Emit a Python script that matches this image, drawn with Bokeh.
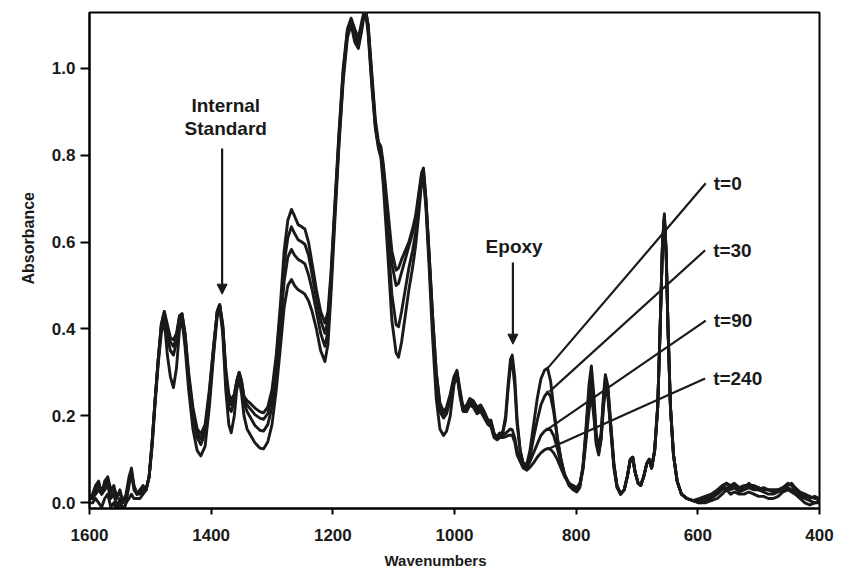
from bokeh.plotting import figure
from bokeh.models import (Range1d, Label, Arrow, NormalHead, FixedTicker, ColumnDataSource,
                          CustomJSTickFormatter, Title)
from bokeh.embed import file_html
from bokeh.resources import INLINE

# ---------------- data ----------------
WAVENUMBER = [
    1600, 1595, 1590, 1585, 1580, 1575, 1570, 1565, 1560, 1555, 1550, 1545, 1540, 1535, 1531, 1527,
    1522, 1517, 1512, 1507, 1502, 1497, 1492, 1487, 1482, 1477, 1472, 1467, 1462, 1457, 1452, 1448,
    1443, 1437, 1430, 1423, 1417, 1410, 1403, 1396, 1390, 1386, 1381, 1376, 1371, 1367, 1362, 1358,
    1354, 1350, 1346, 1341, 1335, 1328, 1320, 1314, 1307, 1300, 1293, 1286, 1280, 1274, 1268, 1263,
    1257, 1251, 1246, 1240, 1234, 1227, 1220, 1213, 1208, 1203, 1197, 1190, 1183, 1176, 1170, 1164,
    1158, 1152, 1147, 1142, 1136, 1130, 1125, 1121, 1117, 1110, 1103, 1096, 1092, 1087, 1081, 1075,
    1069, 1064, 1059, 1054, 1051, 1047, 1042, 1036, 1030, 1024, 1018, 1013, 1007, 1001, 996, 991,
    986, 980, 975, 969, 963, 957, 951, 945, 940, 935, 930, 926, 921, 916, 912, 908, 905, 901, 897,
    892, 887, 881, 876, 870, 864, 858, 852, 847, 842, 837, 831, 825, 819, 812, 805, 799, 794, 789,
    784, 779, 775, 771, 767, 763, 759, 755, 752, 748, 743, 738, 733, 727, 721, 716, 711, 707, 703,
    698, 694, 689, 684, 680, 676, 671, 666, 662, 658, 655, 652, 649, 645, 640, 634, 627, 618, 608,
    598, 588, 578, 568, 560, 553, 546, 540, 532, 524, 516, 508, 500, 492, 484, 476, 468, 460, 452,
    446, 440, 432, 424, 416, 408, 400,
]

ABS_T0 = [
    0.01, 0.02, 0.04, 0.05, 0.02, 0.05, 0.06, 0.03, 0.04, 0.01, 0.03, 0.00, 0.02, 0.06, 0.08, 0.04,
    0.02, 0.03, 0.04, 0.03, 0.06, 0.14, 0.24, 0.33, 0.41, 0.44, 0.41, 0.38, 0.375, 0.39, 0.43, 0.435,
    0.39, 0.30, 0.22, 0.17, 0.158, 0.18, 0.26, 0.36, 0.44, 0.456, 0.41, 0.31, 0.25, 0.237, 0.25, 0.28,
    0.30, 0.28, 0.245, 0.235, 0.228, 0.218, 0.21, 0.207, 0.22, 0.26, 0.34, 0.46, 0.58, 0.65, 0.675, 0.66,
    0.64, 0.635, 0.63, 0.60, 0.55, 0.49, 0.44, 0.414, 0.44, 0.53, 0.68, 0.85, 1.00, 1.09, 1.115, 1.09,
    1.07, 1.11, 1.14, 1.10, 0.99, 0.88, 0.83, 0.82, 0.78, 0.68, 0.58, 0.535, 0.54, 0.56, 0.58, 0.60,
    0.63, 0.66, 0.71, 0.76, 0.77, 0.70, 0.58, 0.43, 0.30, 0.23, 0.21, 0.22, 0.25, 0.29, 0.305, 0.26,
    0.22, 0.225, 0.24, 0.235, 0.22, 0.225, 0.21, 0.19, 0.19, 0.16, 0.15, 0.16, 0.16, 0.20, 0.27, 0.33, 0.34, 0.29, 0.19,
    0.12, 0.09, 0.09, 0.12, 0.18, 0.24, 0.285, 0.305, 0.31, 0.28, 0.22, 0.15, 0.10, 0.065, 0.04, 0.03, 0.025, 0.035, 0.08,
    0.17, 0.27, 0.315, 0.25, 0.16, 0.125, 0.16, 0.25, 0.295, 0.27, 0.18, 0.09, 0.04, 0.02, 0.03, 0.06, 0.10, 0.105, 0.07,
    0.045, 0.04, 0.06, 0.09, 0.10, 0.08, 0.12, 0.22, 0.40, 0.60, 0.665, 0.58, 0.40, 0.22, 0.11, 0.05, 0.02, 0.01, 0.005,
    0.005, 0.01, 0.015, 0.025, 0.035, 0.045, 0.035, 0.04, 0.03, 0.035, 0.045, 0.035, 0.03, 0.035, 0.03, 0.025, 0.03, 0.035, 0.045,
    0.04, 0.03, 0.02, 0.015, 0.01, 0.015, 0.01,
]

ABS_T30 = [
    0.01, 0.015, 0.03, 0.04, 0.03, 0.04, 0.05, 0.02, 0.03, 0.02, 0.02, 0.01, 0.01, 0.05, 0.07, 0.04,
    0.02, 0.03, 0.03, 0.03, 0.06, 0.14, 0.24, 0.33, 0.41, 0.44, 0.40, 0.37, 0.36, 0.38, 0.43, 0.435,
    0.39, 0.29, 0.21, 0.16, 0.147, 0.17, 0.25, 0.36, 0.44, 0.456, 0.41, 0.30, 0.24, 0.225, 0.245, 0.28,
    0.30, 0.28, 0.24, 0.225, 0.215, 0.203, 0.195, 0.192, 0.205, 0.245, 0.33, 0.44, 0.55, 0.61, 0.635, 0.62,
    0.605, 0.60, 0.595, 0.57, 0.525, 0.47, 0.42, 0.39, 0.42, 0.52, 0.67, 0.84, 0.99, 1.085, 1.11, 1.08,
    1.06, 1.10, 1.14, 1.10, 0.98, 0.87, 0.825, 0.81, 0.77, 0.66, 0.55, 0.50, 0.505, 0.53, 0.56, 0.59,
    0.62, 0.65, 0.70, 0.755, 0.765, 0.70, 0.58, 0.43, 0.30, 0.225, 0.205, 0.215, 0.245, 0.285, 0.30, 0.255,
    0.215, 0.22, 0.235, 0.23, 0.215, 0.22, 0.205, 0.19, 0.185, 0.16, 0.15, 0.16, 0.16, 0.19, 0.26, 0.315, 0.325, 0.27, 0.18,
    0.12, 0.09, 0.085, 0.105, 0.15, 0.19, 0.225, 0.245, 0.255, 0.245, 0.21, 0.15, 0.10, 0.065, 0.045, 0.035, 0.03, 0.04, 0.08,
    0.16, 0.25, 0.29, 0.23, 0.15, 0.12, 0.155, 0.24, 0.285, 0.265, 0.175, 0.09, 0.04, 0.02, 0.03, 0.06, 0.10, 0.105, 0.07,
    0.045, 0.04, 0.06, 0.09, 0.10, 0.08, 0.12, 0.22, 0.40, 0.60, 0.66, 0.575, 0.40, 0.22, 0.11, 0.05, 0.02, 0.01, 0.005,
    0.01, 0.015, 0.02, 0.03, 0.04, 0.045, 0.04, 0.045, 0.035, 0.04, 0.04, 0.04, 0.035, 0.03, 0.03, 0.03, 0.03, 0.035, 0.04,
    0.045, 0.035, 0.025, 0.02, 0.015, 0.01, 0.01,
]

ABS_T90 = [
    0.01, 0.01, 0.02, 0.03, 0.02, 0.03, 0.04, 0.01, 0.02, -0.01, 0.01, -0.02, 0.00, 0.04, 0.07, 0.03,
    0.02, 0.02, 0.03, 0.03, 0.06, 0.14, 0.24, 0.33, 0.40, 0.43, 0.38, 0.35, 0.34, 0.37, 0.42, 0.43,
    0.38, 0.28, 0.20, 0.15, 0.134, 0.16, 0.24, 0.35, 0.44, 0.455, 0.40, 0.29, 0.22, 0.21, 0.235, 0.275,
    0.295, 0.27, 0.23, 0.21, 0.195, 0.178, 0.167, 0.165, 0.18, 0.22, 0.30, 0.41, 0.51, 0.565, 0.583, 0.57,
    0.56, 0.555, 0.55, 0.525, 0.49, 0.44, 0.39, 0.36, 0.395, 0.50, 0.66, 0.83, 0.98, 1.08, 1.105, 1.07,
    1.05, 1.10, 1.14, 1.09, 0.97, 0.865, 0.82, 0.80, 0.75, 0.62, 0.48, 0.41, 0.405, 0.44, 0.49, 0.54,
    0.58, 0.62, 0.68, 0.745, 0.755, 0.69, 0.57, 0.41, 0.28, 0.21, 0.195, 0.205, 0.235, 0.28, 0.30, 0.25,
    0.215, 0.215, 0.23, 0.225, 0.21, 0.215, 0.20, 0.185, 0.18, 0.155, 0.15, 0.155, 0.155, 0.16, 0.165, 0.17, 0.168, 0.15, 0.12,
    0.10, 0.085, 0.08, 0.095, 0.115, 0.135, 0.155, 0.165, 0.17, 0.168, 0.155, 0.125, 0.09, 0.065, 0.045, 0.04, 0.035, 0.045, 0.08,
    0.15, 0.23, 0.27, 0.21, 0.14, 0.115, 0.15, 0.23, 0.275, 0.255, 0.17, 0.085, 0.04, 0.02, 0.03, 0.06, 0.10, 0.105, 0.07,
    0.045, 0.04, 0.06, 0.09, 0.10, 0.08, 0.12, 0.22, 0.40, 0.60, 0.655, 0.57, 0.40, 0.22, 0.11, 0.05, 0.02, 0.01, 0.005,
    0.00, 0.005, 0.01, 0.02, 0.03, 0.035, 0.03, 0.035, 0.025, 0.03, 0.035, 0.03, 0.03, 0.025, 0.02, 0.02, 0.025, 0.03, 0.035,
    0.03, 0.025, 0.015, 0.01, 0.005, 0.00, 0.005,
]

ABS_T240 = [
    0.00, 0.00, 0.01, 0.00, -0.01, 0.01, 0.02, -0.01, 0.00, -0.02, 0.00, -0.02, 0.00, 0.01, 0.02, 0.01,
    0.01, 0.01, 0.02, 0.03, 0.06, 0.13, 0.23, 0.32, 0.39, 0.42, 0.34, 0.29, 0.265, 0.31, 0.40, 0.42,
    0.36, 0.26, 0.17, 0.12, 0.108, 0.13, 0.22, 0.34, 0.43, 0.45, 0.39, 0.26, 0.18, 0.161, 0.20, 0.26,
    0.285, 0.25, 0.20, 0.17, 0.155, 0.138, 0.126, 0.124, 0.14, 0.18, 0.26, 0.36, 0.45, 0.50, 0.514, 0.50,
    0.49, 0.485, 0.48, 0.465, 0.44, 0.40, 0.35, 0.325, 0.365, 0.48, 0.64, 0.82, 0.97, 1.07, 1.10, 1.06,
    1.045, 1.09, 1.14, 1.08, 0.96, 0.86, 0.815, 0.795, 0.73, 0.58, 0.42, 0.345, 0.335, 0.37, 0.43, 0.49,
    0.54, 0.59, 0.66, 0.74, 0.745, 0.68, 0.55, 0.38, 0.24, 0.17, 0.155, 0.165, 0.20, 0.27, 0.295, 0.245,
    0.21, 0.21, 0.225, 0.22, 0.205, 0.21, 0.195, 0.18, 0.175, 0.15, 0.145, 0.15, 0.15, 0.152, 0.155, 0.156, 0.155, 0.14, 0.11,
    0.095, 0.08, 0.075, 0.082, 0.092, 0.105, 0.115, 0.122, 0.125, 0.123, 0.115, 0.10, 0.08, 0.06, 0.045, 0.035, 0.03, 0.04, 0.075,
    0.14, 0.21, 0.25, 0.20, 0.135, 0.11, 0.145, 0.22, 0.26, 0.245, 0.165, 0.08, 0.035, 0.02, 0.03, 0.06, 0.10, 0.10, 0.07,
    0.045, 0.04, 0.06, 0.09, 0.10, 0.08, 0.12, 0.22, 0.40, 0.60, 0.65, 0.565, 0.40, 0.22, 0.11, 0.05, 0.02, 0.01, 0.005,
    0.00, 0.00, 0.005, 0.01, 0.02, 0.03, 0.02, 0.025, 0.02, 0.02, 0.025, 0.02, 0.015, 0.015, 0.01, 0.01, 0.015, 0.025, 0.03,
    0.025, 0.02, 0.01, 0.00, -0.005, 0.00, 0.00,
]

SERIES = {"t=0": ABS_T0, "t=30": ABS_T30, "t=90": ABS_T90, "t=240": ABS_T240}

X_TICKS = [1600, 1400, 1200, 1000, 800, 600, 400]
Y_TICKS = [0.0, 0.2, 0.4, 0.6, 0.8, 1.0]

# label leader lines: (label, x_on_curve, y_on_curve, x_end, y_end)
LEADERS = [
    ("t=0", 846, 0.311, 587, 0.735),
    ("t=30", 844, 0.256, 588, 0.581),
    ("t=90", 846, 0.170, 587, 0.419),
    ("t=240", 846, 0.124, 588, 0.286),
]

FONT = "Liberation Sans"
INK = "#1a1a1a"

p = figure(width=843, height=579, output_backend="svg", toolbar_location=None,
           x_range=Range1d(1600, 400), y_range=Range1d(-0.013, 1.128),
           min_border_left=89, min_border_right=24, min_border_top=12, min_border_bottom=71)
p.background_fill_color = "white"
p.border_fill_color = "white"
p.xgrid.visible = False
p.ygrid.visible = False
p.outline_line_color = "black"
p.outline_line_width = 2

for name, ys in SERIES.items():
    src = ColumnDataSource(dict(x=WAVENUMBER, y=ys))
    p.line("x", "y", source=src, line_color=INK, line_width=2.9, line_join="round")

for lab, x0, y0, x1, y1 in LEADERS:
    p.segment(x0=[x0], y0=[y0], x1=[x1], y1=[y1], line_color=INK, line_width=2.2)
    p.add_layout(Label(x=x1, y=y1, text=lab, x_offset=8, y_offset=0, text_baseline="middle",
                       text_font=FONT, text_font_size="19px", text_font_style="bold",
                       text_color=INK))

# annotations
p.add_layout(Label(x=1376, y=0.915, text="Internal", text_align="center", text_baseline="middle",
                   text_font=FONT, text_font_size="19px", text_font_style="bold", text_color=INK))
p.add_layout(Label(x=1376, y=0.862, text="Standard", text_align="center", text_baseline="middle",
                   text_font=FONT, text_font_size="19px", text_font_style="bold", text_color=INK))
p.add_layout(Arrow(end=NormalHead(size=10, fill_color=INK, line_color=INK),
                   x_start=1382, y_start=0.815, x_end=1382, y_end=0.48,
                   line_color=INK, line_width=2.2))
p.add_layout(Label(x=902, y=0.59, text="Epoxy", text_align="center", text_baseline="middle",
                   text_font=FONT, text_font_size="19px", text_font_style="bold", text_color=INK))
p.add_layout(Arrow(end=NormalHead(size=10, fill_color=INK, line_color=INK),
                   x_start=904, y_start=0.553, x_end=904, y_end=0.365,
                   line_color=INK, line_width=2.2))

# axis titles, placed off-centre where the reference prints them
p.add_layout(Title(text="Wavenumbers", align="left", offset=295, standoff=12,
                   text_font=FONT, text_font_size="15px", text_font_style="bold",
                   text_color=INK), "below")
p.add_layout(Title(text="Absorbance", align="left", offset=224, standoff=24,
                   text_font=FONT, text_font_size="16px", text_font_style="bold",
                   text_color=INK), "left")

for ax in (p.xaxis[0], p.yaxis[0]):
    ax.axis_line_color = "black"
    ax.axis_line_width = 2
    ax.major_tick_line_color = "black"
    ax.major_tick_line_width = 2
    ax.major_tick_in = 0
    ax.minor_tick_line_color = None
    ax.major_label_text_font = FONT
    ax.major_label_text_font_size = "17px"
    ax.major_label_text_font_style = "bold"
    ax.major_label_text_color = INK

p.xaxis[0].major_tick_out = 6
p.yaxis[0].major_tick_out = 9
p.xaxis[0].ticker = FixedTicker(ticks=X_TICKS)
p.yaxis[0].ticker = FixedTicker(ticks=Y_TICKS)
p.yaxis[0].formatter = CustomJSTickFormatter(code="return tick.toFixed(1);")
p.xaxis[0].major_label_standoff = 14
p.yaxis[0].major_label_standoff = 5

open("out.html", "w").write(file_html(p, INLINE))
